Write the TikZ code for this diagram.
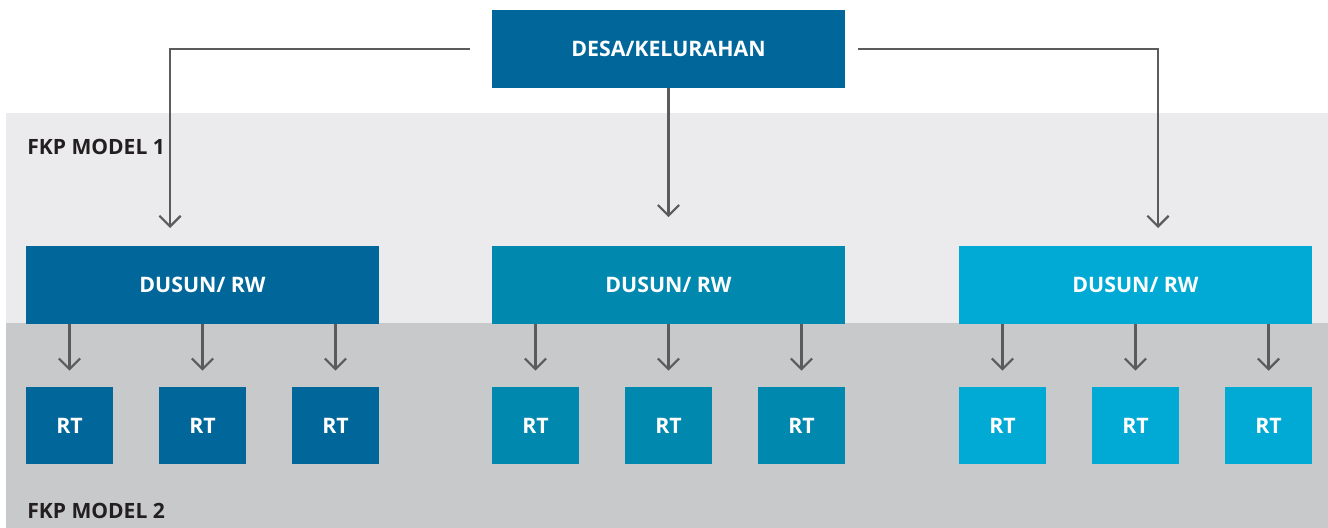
\documentclass[tikz,border=0pt]{standalone}
\usepackage[usenames,dvipsnames]{xcolor}
\usepackage{fontspec}
\setmainfont{Open Sans}
\usepackage{tikz}
\usetikzlibrary{arrows.meta}

\definecolor{blueA}{HTML}{01679B}
\definecolor{blueB}{HTML}{0188AF}
\definecolor{blueC}{HTML}{00AAD4}
\definecolor{bandA}{HTML}{EBEBED}
\definecolor{bandB}{HTML}{C8C9CB}
\definecolor{linegray}{HTML}{5B5B5D}
\definecolor{labelgray}{HTML}{231F20}

\tikzset{
    big/.style={inner sep=0pt, minimum width=264.75pt, minimum height=58.5pt,
        text=white, font=\fontsize{16}{19}\selectfont\bfseries},
    small/.style={inner sep=0pt, minimum width=65.25pt, minimum height=57.75pt,
        text=white, font=\fontsize{16}{19}\selectfont\bfseries},
    band/.style={anchor=base west, inner sep=0pt, text=labelgray,
        font=\fontsize{15.8}{19}\selectfont\bfseries},
    link/.style={draw=linegray, line width=1.7pt,
        -{Straight Barb[length=8pt,width=16pt,line width=1.7pt]}}
}

\begin{document}
\begin{tikzpicture}[x=0.75pt,y=-0.75pt]
    \useasboundingbox (0,0) rectangle (1328,528);
    \fill[bandA] (6,113) rectangle (1328,323);
    \fill[bandB] (6,323) rectangle (1328,528);
    \node[band] (m1) at (27,154) {FKP MODEL 1};
    \node[band] (m2) at (27,518) {FKP MODEL 2};

    \node[big,fill=blueA] (desa) at (668.5,49) {DESA/KELURAHAN};
    \node[big,fill=blueA] (rw1) at (202.5,284.5) {DUSUN/ RW};
    \node[big,fill=blueB] (rw2) at (668.5,284.5) {DUSUN/ RW};
    \node[big,fill=blueC] (rw3) at (1135.5,284.5) {DUSUN/ RW};

    \node[small,fill=blueA] (rt11) at (69.5,425.5) {RT};
    \node[small,fill=blueA] (rt12) at (202.5,425.5) {RT};
    \node[small,fill=blueA] (rt13) at (335.5,425.5) {RT};
    \node[small,fill=blueB] (rt21) at (535.5,425.5) {RT};
    \node[small,fill=blueB] (rt22) at (668.5,425.5) {RT};
    \node[small,fill=blueB] (rt23) at (801.5,425.5) {RT};
    \node[small,fill=blueC] (rt31) at (1002.5,425.5) {RT};
    \node[small,fill=blueC] (rt32) at (1135.5,425.5) {RT};
    \node[small,fill=blueC] (rt33) at (1268.5,425.5) {RT};

    % ends of the long arrows
    \coordinate (k1) at (170,228);
    \coordinate (k3) at (1158,228);

    \draw[link, shorten <=16.5pt] (desa.west) -| (k1);
    \draw[link, shorten >=21pt] (desa) -- (rw2);
    \draw[link, shorten <=9.75pt] (desa.east) -| (k3);

    \draw[link, shorten >=12pt] (rt11 |- rw1.south) -- (rt11);
    \draw[link, shorten >=12pt] (rt12 |- rw1.south) -- (rt12);
    \draw[link, shorten >=12pt] (rt13 |- rw1.south) -- (rt13);
    \draw[link, shorten >=12pt] (rt21 |- rw2.south) -- (rt21);
    \draw[link, shorten >=12pt] (rt22 |- rw2.south) -- (rt22);
    \draw[link, shorten >=12pt] (rt23 |- rw2.south) -- (rt23);
    \draw[link, shorten >=12pt] (rt31 |- rw3.south) -- (rt31);
    \draw[link, shorten >=12pt] (rt32 |- rw3.south) -- (rt32);
    \draw[link, shorten >=12pt] (rt33 |- rw3.south) -- (rt33);
\end{tikzpicture}
\end{document}
